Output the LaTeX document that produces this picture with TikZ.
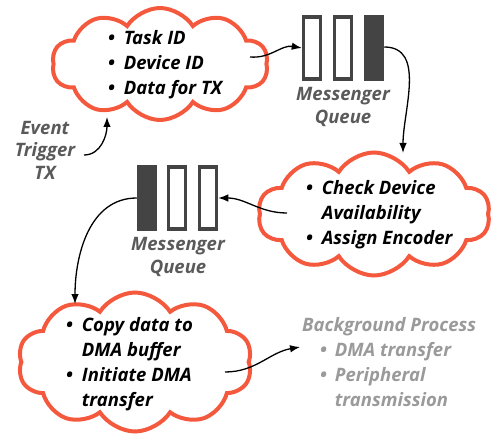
\documentclass[tikz,border=0pt]{standalone}
\usepackage{fontspec}
\setmainfont{Open Sans}
\usetikzlibrary{shapes.symbols,arrows.meta}
\definecolor{cloudred}{HTML}{F4593E}
\definecolor{qgray}{HTML}{444444}
\definecolor{lblgray}{HTML}{5A5A5A}
\definecolor{bggray}{HTML}{9A9A9A}
\tikzset{cl/.style  = {cloud, cloud puffs=10, cloud puff arc=115, cloud ignores aspect,
                       draw=cloudred, line width=4pt, fill=white, inner sep=0pt},
           qb/.style  = {rectangle, draw=qgray, line width=3.5pt, minimum width=17pt,
                         minimum height=62pt, inner sep=0pt},
           qf/.style  = {qb, fill=qgray},
           txt/.style = {inner sep=0pt, font=\fontsize{18.5}{25}\selectfont\bfseries\itshape},
           lbl/.style = {txt, text=lblgray, align=center, font=\fontsize{18.5}{22.5}\selectfont\bfseries\itshape},
           fl/.style  = {-{Latex[length=10pt,width=7.5pt]}, line width=1.3pt}}
\newcommand{\bul}{\textbullet}

\begin{document}
\begin{tikzpicture}[x=1pt, y=-1pt]
    \useasboundingbox (0,0) rectangle (494,435);
    % clouds
    \node[cl, minimum width=216pt, minimum height=112pt] (c1) at (160,64) {};
    \node[cl, minimum width=232pt, minimum height=123pt] (c2) at (374,214) {};
    \node[cl, minimum width=234pt, minimum height=139pt] (c3) at (135,362) {};
    % cloud texts
    \node[txt, anchor=west] (t1) at (108,65)
      {\begin{tabular}{@{}c@{\hspace{9pt}}l@{}}\bul & Task ID\\ \bul & Device ID\\ \bul & Data for TX\end{tabular}};
    \node[txt, anchor=west] (t2) at (306,215)
      {\begin{tabular}{@{}c@{\hspace{9pt}}l@{}}\bul & Check Device\\ & Availability\\ \bul & Assign Encoder\end{tabular}};
    \node[txt, anchor=west] (t3) at (66,364)
      {\begin{tabular}{@{}c@{\hspace{9pt}}l@{}}\bul & Copy data to\\ & DMA buffer\\ \bul & Initiate DMA\\ & transfer\end{tabular}};
    % queues
    \node[qb] (q1a) at (312,48) {}; \node[qb] (q1b) at (343,48) {}; \node[qf] (q1c) at (374,48) {};
    \node[qf] (q2a) at (147,198) {}; \node[qb] (q2b) at (177,198) {}; \node[qb] (q2c) at (208,198) {};
    \node[lbl] (l1) at (343,107) {Messenger\\Queue};
    \node[lbl] (l2) at (178,257) {Messenger\\Queue};
    % side texts
    \node[lbl] (ev) at (45,150) {Event\\Trigger\\TX};
    \node[txt, text=bggray, anchor=north west] (bg) at (302,314)
      {\begin{tabular}{@{\hspace{18pt}}c@{\hspace{8pt}}l@{}}\multicolumn{2}{@{}l@{}}{Background Process}\\
        \bul & DMA transfer\\ \bul & Peripheral\\ & transmission\end{tabular}};
    % connectors
    \coordinate (c1o) at (250,57);
    \coordinate (c2i) at (403,153);
    \coordinate (c2o) at (287,213);
    \coordinate (c3i) at (75,304);
    \coordinate (c3o) at (225,372);
    \coordinate (bgi) at (300,347);
    \coordinate (evo) at (84,155);
    \coordinate (c1i) at (107,117);
    \draw[fl] (c1o) to[out=-5, in=170] (q1a.west);
    \draw[fl] (q1c.east |- 0,47) to[out=0, in=90] (c2i);
    \draw[fl] (c2o) to[out=180, in=0] (q2c.east);
    \draw[fl] (q2a.west) to[out=180, in=90] (c3i);
    \draw[fl] (c3o) to[out=0, in=190] (bgi);
    \draw[fl] (evo) to[out=0, in=-90] (c1i);
\end{tikzpicture}
\end{document}
